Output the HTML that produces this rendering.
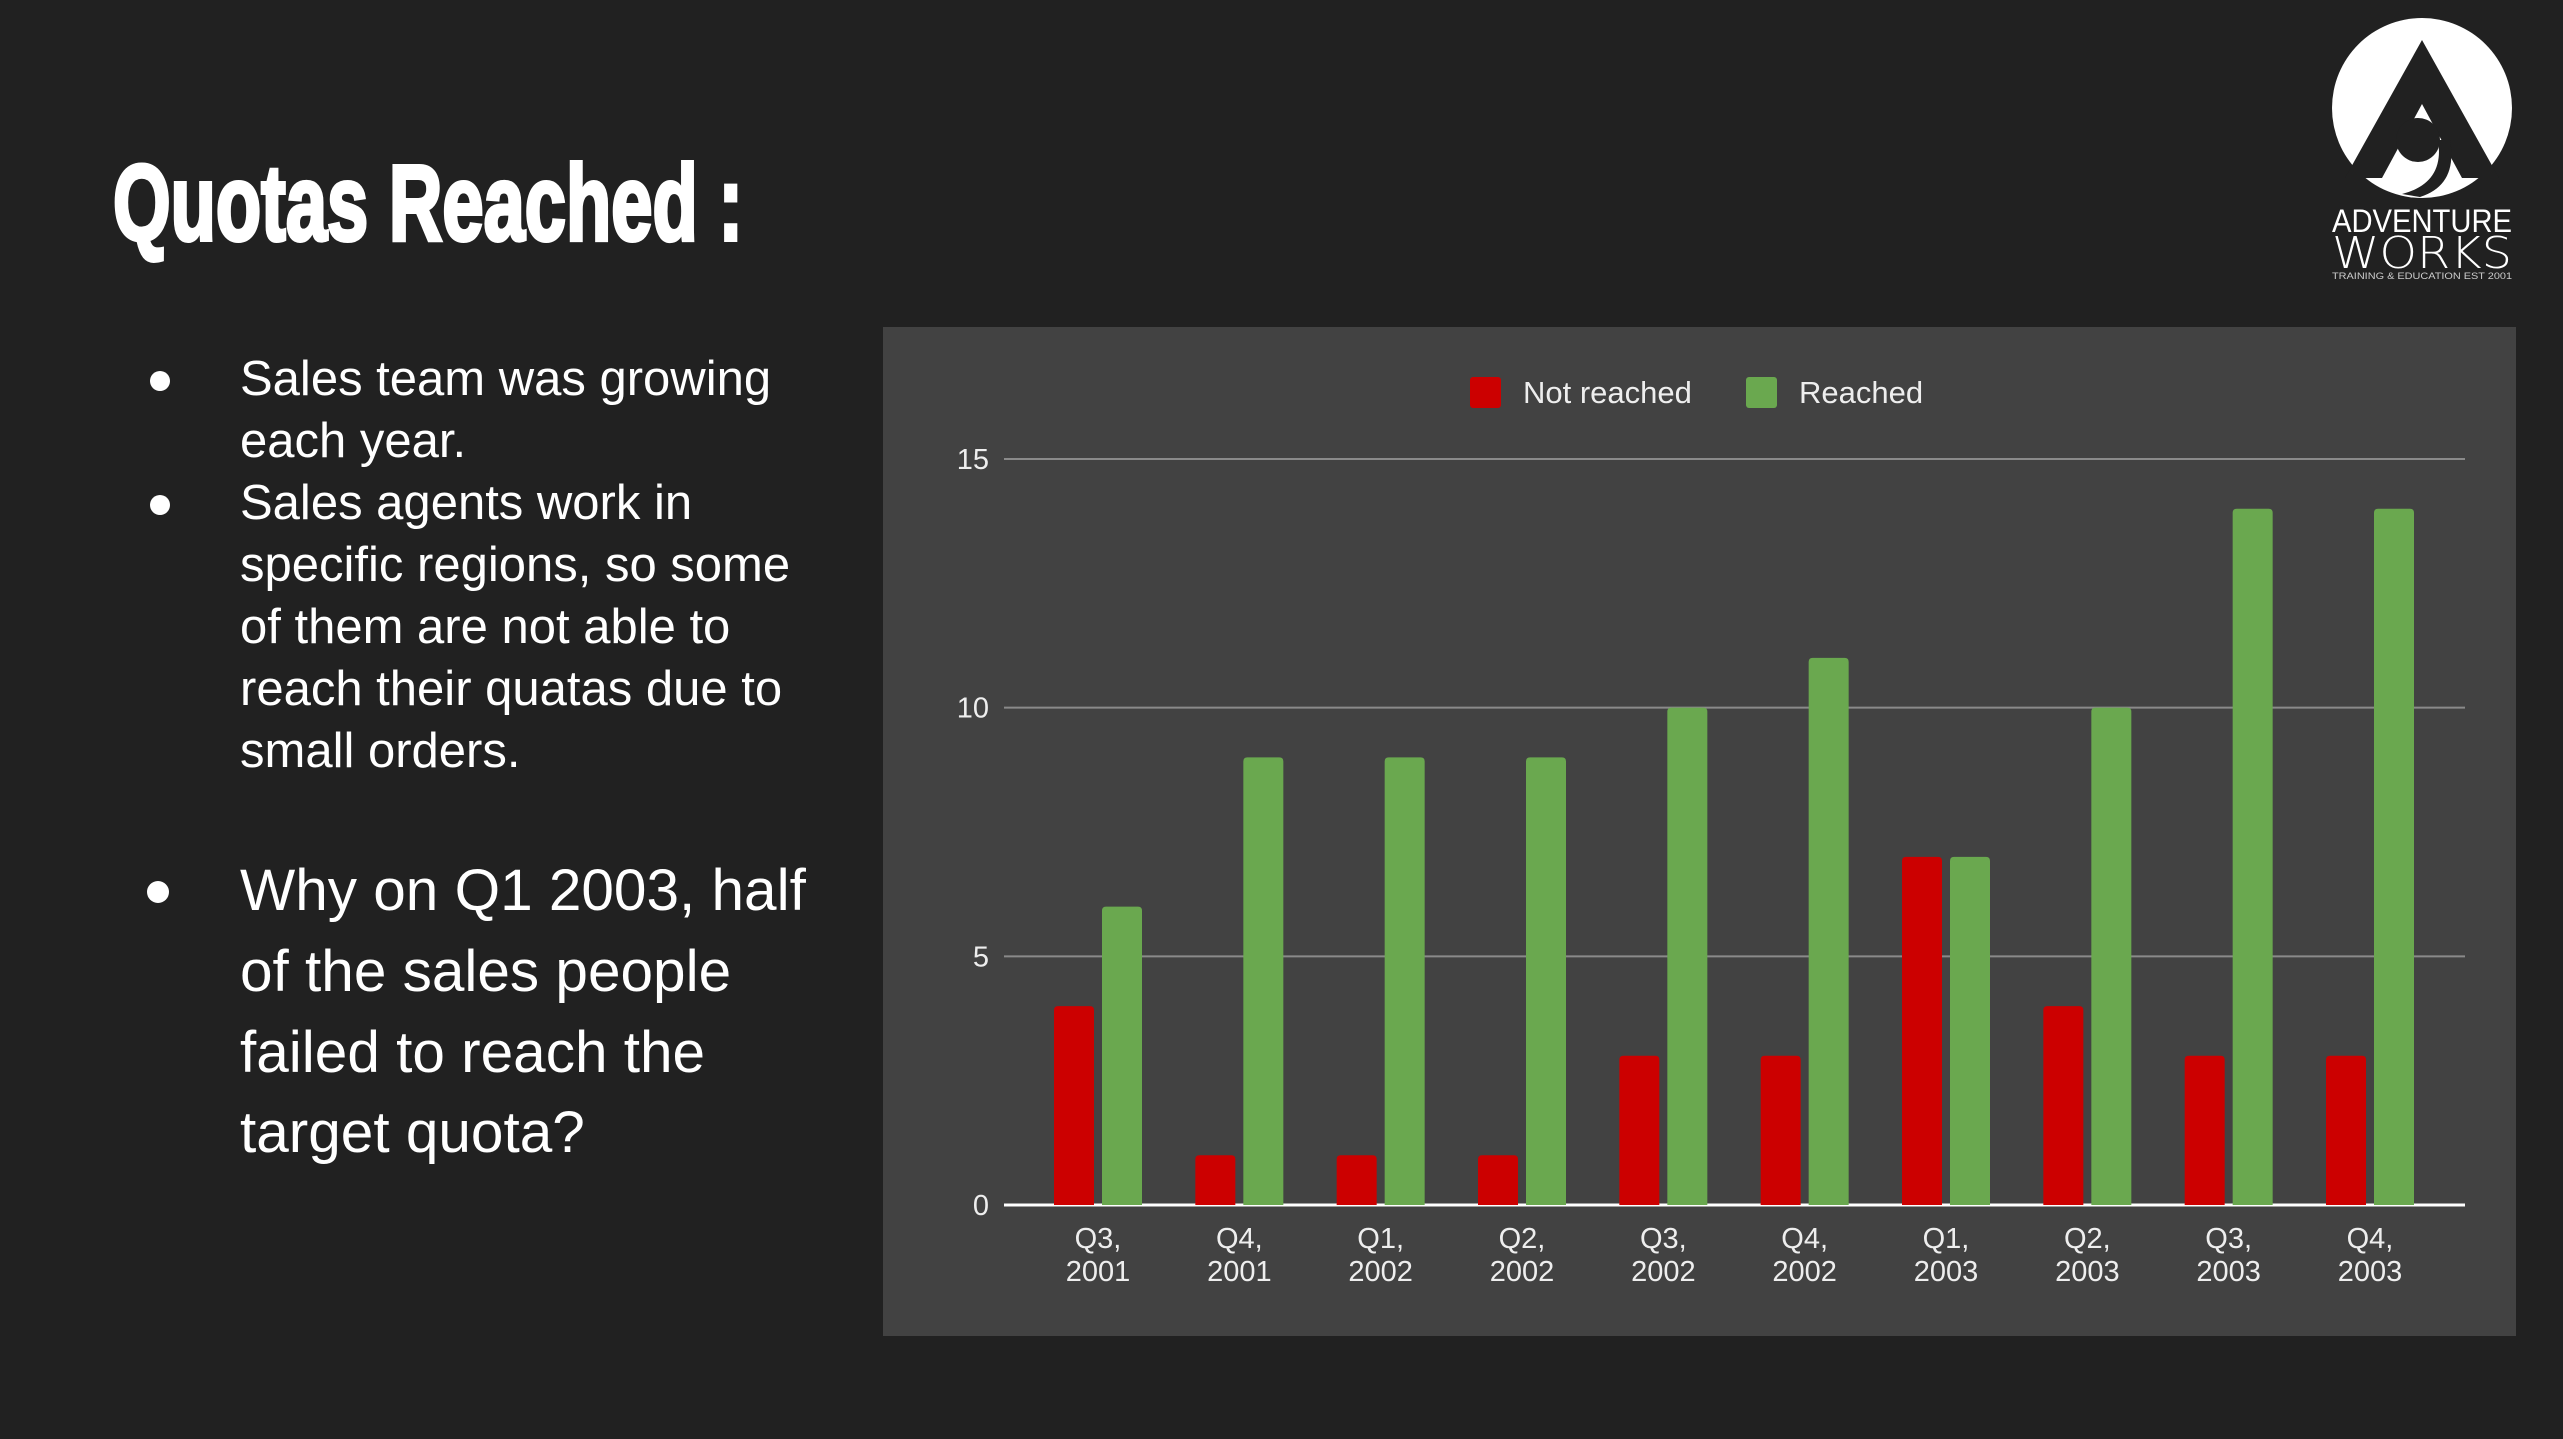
<!DOCTYPE html>
<html><head><meta charset="utf-8">
<style>
html,body{margin:0;padding:0;background:#212121;}
svg{display:block;}
text{font-family:"Liberation Sans",Arial,sans-serif;}
</style></head>
<body>
<svg id="page" width="2563" height="1439" viewBox="0 0 2563 1439" xmlns="http://www.w3.org/2000/svg">
<rect x="0" y="0" width="2563" height="1439" fill="#212121"/>
<text x="113" y="240" font-size="108" font-weight="bold" fill="#fff" stroke="#fff" stroke-width="4" textLength="630" lengthAdjust="spacingAndGlyphs" style="font-family:'Liberation Sans Narrow','Liberation Sans',sans-serif">Quotas Reached :</text>

<g fill="#fff" font-size="49">
  <circle cx="160" cy="381" r="10"/>
  <text x="240" y="395">Sales team was growing</text>
  <text x="240" y="457">each year.</text>
  <circle cx="160" cy="505" r="10"/>
  <text x="240" y="519">Sales agents work in</text>
  <text x="240" y="581">specific regions, so some</text>
  <text x="240" y="643">of them are not able to</text>
  <text x="240" y="705">reach their quatas due to</text>
  <text x="240" y="767">small orders.</text>
  <circle cx="158" cy="892" r="11"/>
  <g font-size="58.5">
  <text x="240" y="910">Why on Q1 2003, half</text>
  <text x="240" y="991">of the sales people</text>
  <text x="240" y="1072">failed to reach the</text>
  <text x="240" y="1152">target quota?</text>
  </g>
</g>

<g>
  <circle cx="2422" cy="108" r="90" fill="#fff"/>
  <path d="M2422 40 L2345 178 L2382 178 L2422 104 L2462 178 L2499 178 Z" fill="#212121"/>
  <circle cx="2418" cy="140" r="22" fill="#212121"/>
  <path d="M2438 140 Q2445 183 2402 194 L2420 197 Q2458 185 2450 140 Z" fill="#212121"/>
  <text x="2422" y="232" font-size="32" fill="#fff" text-anchor="middle" textLength="180" lengthAdjust="spacingAndGlyphs">ADVENTURE</text>
  <text x="2422" y="268" font-size="44" fill="#fff" text-anchor="middle" textLength="180" lengthAdjust="spacingAndGlyphs" style="font-family:'DejaVu Sans',sans-serif;font-weight:200">WORKS</text>
  <text x="2422" y="279" font-size="9" fill="#ccc" text-anchor="middle" textLength="180" lengthAdjust="spacingAndGlyphs">TRAINING &amp; EDUCATION    EST 2001</text>
</g>

<g id="chart">
  <rect x="883" y="327" width="1633" height="1009" fill="#424242"/>
</g>
</svg>
<script>
const categoriesQ = ["Q3,","Q4,","Q1,","Q2,","Q3,","Q4,","Q1,","Q2,","Q3,","Q4,"];
const categoriesY = ["2001","2001","2002","2002","2002","2002","2003","2003","2003","2003"];
const notReached = [4,1,1,1,3,3,7,4,3,3];
const reached = [6,9,9,9,10,11,7,10,14,14];
const yTicks = [0,5,10,15];
const seriesNames = ["Not reached","Reached"];

const NS="http://www.w3.org/2000/svg";
const chart=document.getElementById('chart');
const y0=1205, yPerUnit=(1205-459)/15;
const yScale=v=>y0-v*yPerUnit;
const firstCenter=1098, step=(2370-1098)/9;
const xScale=i=>firstCenter+i*step;
function mk(tag,attrs,parent){const e=document.createElementNS(NS,tag);for(const k in attrs)e.setAttribute(k,attrs[k]);(parent||chart).appendChild(e);return e;}

yTicks.forEach(t=>{
  const y=yScale(t);
  const g=mk('line',{x1:1004,x2:2465,y1:y,y2:y,stroke:t===0?'#ffffff':'#8a8a8a','stroke-width':t===0?3:2});
  
  
  const tx=mk('text',{x:989,y:y+10,'font-size':29,fill:'#eee','text-anchor':'end'});
  tx.textContent=t;
  
  
});

function bar(x,v,color,name){
  const y=yScale(v);
  const p=mk('path',{d:`M${x} ${y0} V${y+4} Q${x} ${y} ${x+4} ${y} H${x+36} Q${x+40} ${y} ${x+40} ${y+4} V${y0} Z`,fill:color});
  
  
}
categoriesQ.forEach((q,i)=>{
  const c=xScale(i);
  bar(c-44,notReached[i],'#cc0000','bar-not-reached-'+i);
  bar(c+4,reached[i],'#6aa84f','bar-reached-'+i);
  const t1=mk('text',{x:c,y:1248,'font-size':29,fill:'#eee','text-anchor':'middle'});
  t1.textContent=q;
  
  
  const t2=mk('text',{x:c,y:1281,'font-size':29,fill:'#eee','text-anchor':'middle'});
  t2.textContent=categoriesY[i];
  
  
});

const legendColors=['#cc0000','#6aa84f'];
const legendX=[1470,1746];
seriesNames.forEach((n,i)=>{
  const r=mk('rect',{x:legendX[i],y:377,width:31,height:31,rx:3,fill:legendColors[i]});
  
  
  const t=mk('text',{x:legendX[i]+53,y:403,'font-size':31,fill:'#eee'});
  t.textContent=n;
  
  
});
</script>
</body></html>
